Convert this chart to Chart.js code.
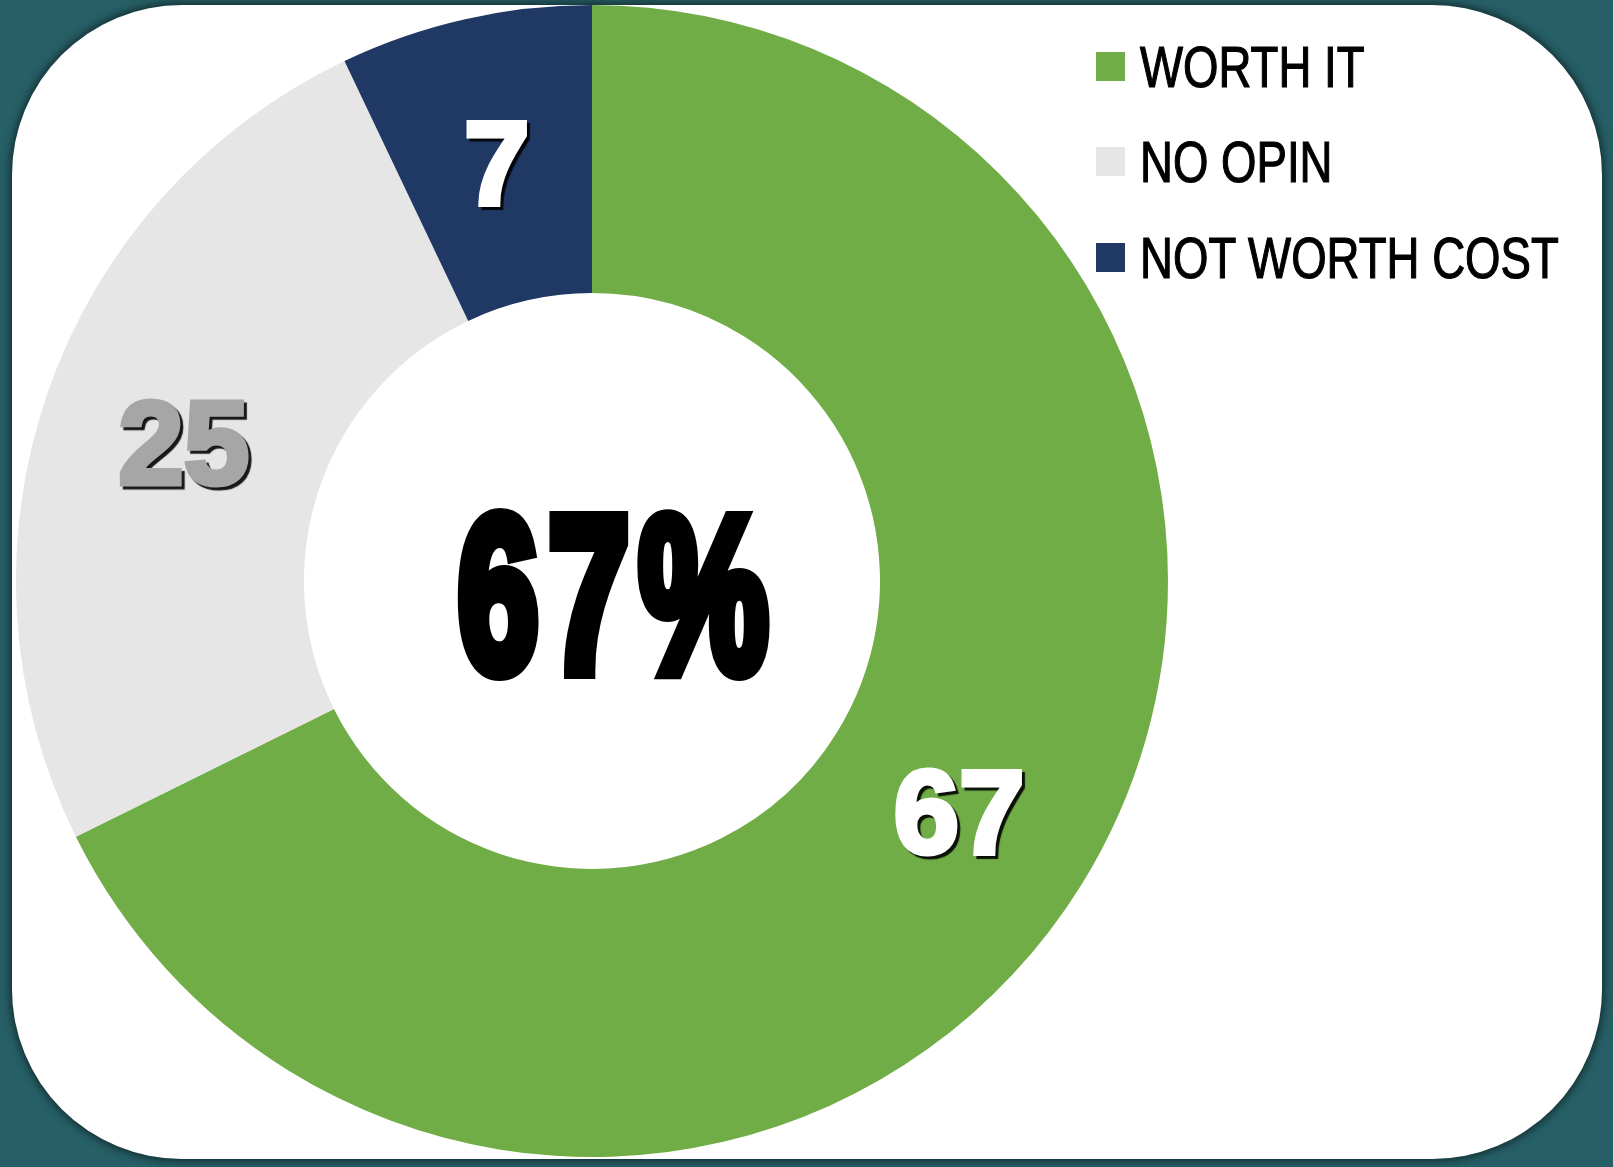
<!DOCTYPE html>
<html>
<head>
<meta charset="utf-8">
<script src="https://cdn.jsdelivr.net/npm/chart.js@4/dist/chart.umd.min.js"></script>
<style>
  html, body { margin: 0; padding: 0; }
  body { width: 1613px; height: 1167px; background: #265f66; position: relative; overflow: hidden; }
  #card {
    position: absolute; left: 12px; top: 5px; width: 1590px; height: 1154px;
    background: #fff; border-radius: 170px;
    box-shadow: 0 0 9px 2px rgba(0,0,0,0.55);
  }
  #chart { position: absolute; left: 0; top: 0; }
  #legend { position: absolute; left: 1096px; top: 0; }
  .item { position: absolute; left: 0; height: 60px; width: 520px; }
  .box { position: absolute; left: 0; width: 29px; height: 29px; }
  .txt {
    position: absolute; left: 44px; white-space: nowrap;
    font-family: "Liberation Sans", Arial, sans-serif; font-size: 57px; line-height: 57px;
    color: #000; -webkit-text-stroke: 1.2px #000;
    transform: scaleX(0.8); transform-origin: left center;
  }
</style>
</head>
<body>
<div id="card"></div>
<canvas id="chart" width="1613" height="1167"></canvas>
<div id="legend"></div>
<script>
// data
const labels = ["WORTH IT", "NO OPIN", "NOT WORTH COST"];
const values = [67, 25, 7];
const sliceColors = ["#70ad47", "#e6e6e6", "#203864"];
const labelColors = ["#ffffff", "#a6a6a6", "#ffffff"];

// legend
const legendDiv = document.getElementById("legend");
const rowTops = [66, 161, 257];
labels.forEach((name, i) => {
    const item = document.createElement("div");
    item.className = "item";
    item.style.top = (rowTops[i] - 30) + "px";
    item.innerHTML = `<div class="box" style="top:16px;background:${sliceColors[i]}"></div>
        <div class="txt" style="top:3px">${name}</div>`;
    legendDiv.appendChild(item);
});

// value labels on the slices + big number in the middle
const labelPlugin = {
    id: "sliceLabels",
    afterDatasetsDraw(chart) {
        const ctx = chart.ctx;
        const meta = chart.getDatasetMeta(0);
        ctx.save();
        ctx.font = "bold 118px 'Liberation Sans', Arial, sans-serif";
        ctx.textAlign = "center";
        ctx.textBaseline = "middle";
        ctx.lineJoin = "miter";
        meta.data.forEach((arc, i) => {
            const p = arc.tooltipPosition();
            const txt = String(values[i]);
            ctx.shadowColor = "rgba(0,0,0,0.9)";
            ctx.shadowOffsetX = 3;
            ctx.shadowOffsetY = 3;
            ctx.shadowBlur = 1;
            ctx.fillStyle = labelColors[i];
            ctx.strokeStyle = labelColors[i];
            ctx.lineWidth = 5;
            ctx.strokeText(txt, p.x, p.y + 12);
            ctx.shadowColor = "transparent";
            ctx.fillText(txt, p.x, p.y + 12);
        });
        ctx.restore();

        // centre figure, drawn glyph by glyph so the heavy strokes do not merge
        ctx.save();
        const arc0 = meta.data[0];
        ctx.translate(arc0.x + 21, 671);
        ctx.scale(0.66, 1);
        ctx.font = "bold 220px 'Liberation Sans', Arial, sans-serif";
        ctx.textAlign = "left";
        ctx.textBaseline = "alphabetic";
        ctx.lineJoin = "miter";
        ctx.fillStyle = "#000";
        ctx.strokeStyle = "#000";
        ctx.lineWidth = 16;
        const chars = (values[0] + "%").split("");
        const gap = 15;
        const widths = chars.map(c => ctx.measureText(c).width);
        const total = widths.reduce((a, b) => a + b, 0) + gap * (chars.length - 1);
        let x = -total / 2;
        chars.forEach((c, i) => {
            ctx.strokeText(c, x, 0);
            ctx.fillText(c, x, 0);
            x += widths[i] + gap;
        });
        ctx.restore();
    }
};

new Chart(document.getElementById("chart"), {
    type: "doughnut",
    data: {
        labels: labels,
        datasets: [{
            data: values,
            backgroundColor: sliceColors,
            borderWidth: 0,
            hoverOffset: 0
        }]
    },
    options: {
        responsive: false,
        animation: false,
        events: [],
        cutout: "50%",
        layout: { padding: { left: 16, top: 5, right: 445, bottom: 10 } },
        plugins: {
            legend: { display: false },
            tooltip: { enabled: false }
        }
    },
    plugins: [labelPlugin]
});
</script>
</body>
</html>
